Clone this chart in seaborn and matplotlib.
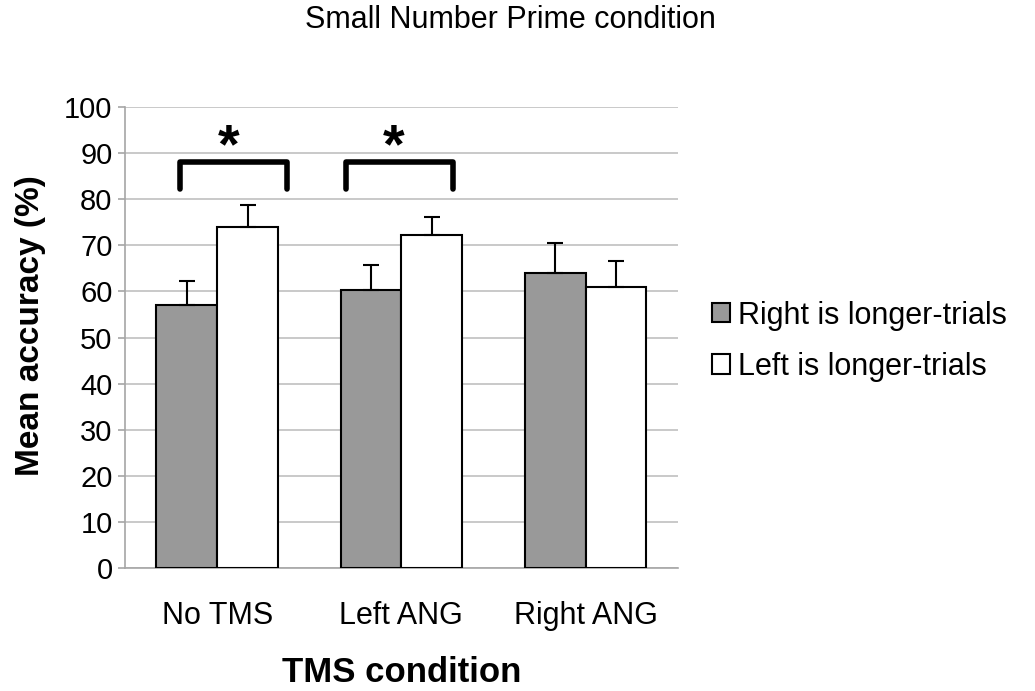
import matplotlib
matplotlib.use("Agg")
import matplotlib.pyplot as plt
import numpy as np
import pandas as pd
import seaborn as sns

# Values
conditions = ["No TMS", "Left ANG", "Right ANG"]
trial_types = ["Right is longer-trials", "Left is longer-trials"]
right_longer = [57.0, 60.3, 64.0]
left_longer = [74.0, 72.2, 61.0]
right_err = [5.2, 5.4, 6.6]
left_err = [4.8, 4.0, 5.6]

# significance brackets: (left x, right x) relative to category index
brackets = [(-0.20, 0.38), (-0.30, 0.28)]
bracket_cats = [0, 1]
bracket_low, bracket_high, star_y = 82.2, 88.0, 91.0

df = pd.DataFrame({
    "cond": conditions * 2,
    "acc": right_longer + left_longer,
    "trial": [trial_types[0]] * 3 + [trial_types[1]] * 3,
})

sns.set_style("white")
plt.rcParams["font.family"] = ["Liberation Sans", "DejaVu Sans"]
plt.rcParams["text.color"] = "black"
plt.rcParams["axes.labelcolor"] = "black"
plt.rcParams["xtick.color"] = "black"
plt.rcParams["ytick.color"] = "black"

fig = plt.figure(figsize=(10.35, 6.91), dpi=100)
ax = fig.add_axes([0.1208, 0.178, 0.534, 0.667])

sns.barplot(data=df, x="cond", y="acc", hue="trial", order=conditions,
            hue_order=trial_types, palette=["#999999", "white"],
            edgecolor="black", linewidth=1.5, width=0.66, gap=0,
            errorbar=None, ax=ax, zorder=3)

# one-sided error bars from the bar tops
for cont, errs in zip(ax.containers, [right_err, left_err]):
    xs = [p.get_x() + p.get_width() / 2 for p in cont]
    ys = [p.get_height() for p in cont]
    ax.errorbar(xs, ys, yerr=[np.zeros(len(errs)), errs], fmt="none",
                ecolor="black", elinewidth=1.5, capsize=6, capthick=1.5, zorder=4)

for cat, (x0, x1) in zip(bracket_cats, brackets):
    ax.plot([cat + x0, cat + x0, cat + x1, cat + x1],
            [bracket_low, bracket_high, bracket_high, bracket_low],
            color="black", lw=4, solid_joinstyle="round", solid_capstyle="round",
            zorder=5, clip_on=False)
    ax.text(cat + (x0 + x1) / 2 - 0.03, star_y, "*", ha="center", va="center",
            fontsize=40, fontweight="bold", zorder=5)

ax.set_ylim(0, 100)
ax.set_xlim(-0.5, 2.5)
ax.set_yticks(np.arange(0, 101, 10))
ax.yaxis.grid(True, color="#c0c0c0", lw=1.2)
ax.set_axisbelow(True)
for s in ["top", "right"]:
    ax.spines[s].set_visible(False)
for s in ["left", "bottom"]:
    ax.spines[s].set_color("#a6a6a6")
    ax.spines[s].set_linewidth(1.2)

ax.set_xticks([-0.5, 0.5, 1.5, 2.5], minor=True)
ax.tick_params(axis="x", which="major", length=0, pad=24, labelsize=22)
ax.tick_params(axis="x", which="minor", length=8, color="#a6a6a6", width=1.2, direction="out")
ax.tick_params(axis="y", length=5, color="#a6a6a6", width=1.2, direction="out",
               left=True, labelsize=21, pad=4)

ax.set_xlabel("TMS condition", fontsize=25, fontweight="bold", labelpad=18)
ax.set_ylabel("Mean accuracy (%)", fontsize=24, fontweight="bold")
ax.yaxis.set_label_coords(-0.143, 0.525)

fig.text(0.493, 0.971, "Small Number Prime condition", ha="center", va="center",
         fontsize=22)

ax.legend(loc="center left", bbox_to_anchor=(1.04, 0.492), frameon=False,
          fontsize=22, handlelength=0.6, handleheight=0.6, handletextpad=0.25,
          labelspacing=0.7, borderaxespad=0)

fig.savefig("out.png", dpi=100)
